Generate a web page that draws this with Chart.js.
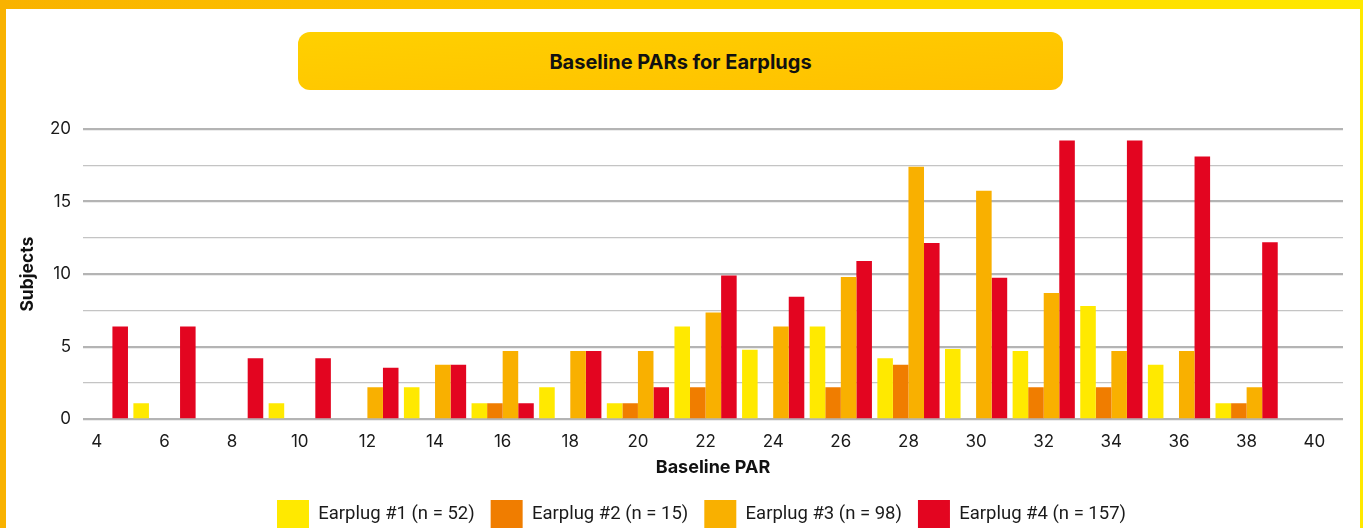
<!DOCTYPE html>
<html>
<head>
<meta charset="utf-8">
<title>Baseline PARs for Earplugs</title>
<script src="https://cdn.jsdelivr.net/npm/chart.js@4.4.1/dist/chart.umd.min.js"></script>
<style>
    html, body { margin: 0; padding: 0; width: 1363px; height: 528px; overflow: hidden; background: #fff; }
    #topBar { position: absolute; left: 0; top: 0; width: 1363px; height: 9px; background: linear-gradient(90deg, #F9B200, #FFCB00 45%, #FFE900); }
    #leftBar { position: absolute; left: 0; top: 0; width: 6px; height: 528px; background: #F9B200; }
    #rightBar { position: absolute; right: 0; top: 0; width: 3px; height: 528px; background: #FFE900; }
    #titleBox {
        position: absolute; left: 298px; top: 32px; width: 765px; height: 58px;
        border-radius: 12px; background: linear-gradient(175deg, #FFD000, #FFC000);
        font-family: Inter, "Noto Sans", sans-serif; font-weight: 700; font-size: 20px; color: #111;
        display: flex; align-items: center; justify-content: center; padding-top: 1px; box-sizing: border-box;
    }
    #chartWrap { position: absolute; left: 0; top: 0; width: 1363px; height: 538px; }
</style>
</head>
<body>
<div id="topBar"></div>
<div id="leftBar"></div>
<div id="rightBar"></div>
<div id="titleBox">Baseline PARs for Earplugs</div>
<div id="chartWrap"><canvas id="parChart"></canvas></div>
<script>
// baseline PAR bins (dB)
const parBins = [4, 6, 8, 10, 12, 14, 16, 18, 20, 22, 24, 26, 28, 30, 32, 34, 36, 38];
const xTicks = [4, 6, 8, 10, 12, 14, 16, 18, 20, 22, 24, 26, 28, 30, 32, 34, 36, 38, 40];

// subjects per bin
const earplug1 = [0, 1.1, 0, 1.1, 0, 2.2, 1.1, 2.2, 1.1, 6.4, 4.8, 6.4, 4.2, 4.85, 4.7, 7.8, 3.75, 1.1];
const earplug2 = [0, 0, 0, 0, 0, 0, 1.1, 0, 1.1, 2.2, 0, 2.2, 3.75, 0, 2.2, 2.2, 0, 1.1];
const earplug3 = [0, 0, 0, 0, 2.2, 3.75, 4.7, 4.7, 4.7, 7.35, 6.4, 9.8, 17.4, 15.75, 8.7, 4.7, 4.7, 2.2];
const earplug4 = [6.4, 6.4, 4.2, 4.2, 3.55, 3.75, 1.1, 4.7, 2.2, 9.9, 8.45, 10.9, 12.15, 9.75, 19.2, 19.2, 18.1, 12.2];

const seriesLabels = ['Earplug #1 (n = 52)', 'Earplug #2 (n = 15)', 'Earplug #3 (n = 98)', 'Earplug #4 (n = 157)'];
const seriesColors = ['#FFE900', '#F07D00', '#F9B000', '#E30520'];

const fontFamily = 'Inter, "Noto Sans", sans-serif';

function toPoints(values) {
    return parBins.map((x, i) => ({ x: x, y: values[i] }));
}

const datasets = [earplug1, earplug2, earplug3, earplug4].map((values, i) => ({
    label: seriesLabels[i],
    data: toPoints(values),
    backgroundColor: seriesColors[i],
    borderWidth: 0,
    categoryPercentage: 0.92,
    barPercentage: 1.0,
}));

// legend sits a bit right of the canvas centre in the original
const legendShift = {
    id: 'legendShift',
    afterLayout(chart) {
        chart.legend.left += 25;
        chart.legend.right += 25;
    },
};

new Chart(document.getElementById('parChart'), {
    type: 'bar',
    data: { datasets: datasets },
    plugins: [legendShift],
    options: {
        responsive: true,
        maintainAspectRatio: false,
        animation: false,
        layout: { padding: { left: 10, right: 20, top: 129, bottom: 0 } },
        scales: {
            x: {
                type: 'linear',
                offset: false,
                min: 3.59,
                max: 40.85,
                grid: { display: false, offset: false },
                border: { display: false },
                afterBuildTicks: axis => { axis.ticks = xTicks.map(v => ({ value: v })); },
                afterFit: axis => { axis.height = 64.7; },
                ticks: {
                    color: '#1a1a1a',
                    padding: 4,
                    maxRotation: 0,
                    autoSkip: false,
                    font: { family: fontFamily, size: 17 },
                },
                title: {
                    display: true,
                    text: 'Baseline PAR',
                    color: '#111',
                    padding: 6,
                    font: { family: fontFamily, size: 18, weight: 'bold' },
                },
            },
            y: {
                min: 0,
                max: 20,
                border: { display: false },
                afterFit: axis => { axis.width = 73; },
                grid: {
                    drawTicks: false,
                    color: ctx => ctx.tick.value % 5 === 0 ? '#b4b4b4' : '#c4c4c4',
                    lineWidth: ctx => ctx.tick.value % 5 === 0 ? 2.2 : 1.2,
                },
                ticks: {
                    stepSize: 2.5,
                    padding: 12,
                    color: '#1a1a1a',
                    font: { family: fontFamily, size: 17 },
                    callback: v => v % 5 === 0 ? v : '',
                },
                title: {
                    display: true,
                    text: 'Subjects',
                    color: '#111',
                    padding: 7,
                    font: { family: fontFamily, size: 17.5, weight: 'bold' },
                },
            },
        },
        plugins: {
            legend: {
                position: 'bottom',
                labels: {
                    boxWidth: 32,
                    boxHeight: 28,
                    padding: 16,
                    color: '#1a1a1a',
                    font: { family: '"Roboto", "Noto Sans", sans-serif', size: 18.5 },
                },
            },
            tooltip: { enabled: false },
        },
    },
});
</script>
</body>
</html>
